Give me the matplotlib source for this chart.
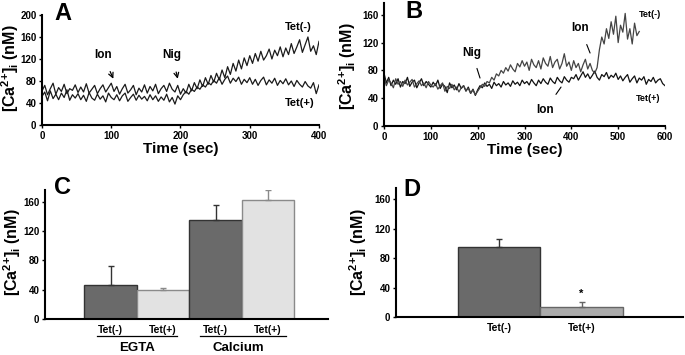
import matplotlib
matplotlib.use('Agg')
import matplotlib.pyplot as plt
import numpy as np

plt.rcParams['font.family'] = 'Liberation Sans'
plt.rcParams['font.weight'] = 'bold'
plt.rcParams['mathtext.fontset'] = 'custom'
plt.rcParams['mathtext.rm'] = 'Liberation Sans:bold'
plt.rcParams['mathtext.it'] = 'Liberation Sans:bold'
plt.rcParams['mathtext.bf'] = 'Liberation Sans:bold'

# panel A traces, sampled every 4 s
time_A = np.arange(0, 401, 4)
tet_minus_A = [62, 72, 55, 66, 76, 56, 68, 61, 74, 57, 66, 63, 73,
               59, 69, 60, 75, 58, 65, 72, 57, 66, 73, 60, 68, 76,
               61, 70, 56, 66, 74, 58, 64, 72, 55, 67, 60, 73,
               58, 70, 62, 74, 57, 66, 72, 61, 76, 65, 60, 72, 56,
               66, 58, 74, 62, 77, 66, 82, 70, 86, 74, 90, 78,
               94, 82, 100, 86, 106, 92, 112, 98, 118, 102, 122, 108, 126,
               112, 130, 116, 134, 118, 126, 138, 120, 136, 126, 142, 124,
               140, 128, 148, 130, 142, 155, 132, 146, 160, 134, 144, 128, 152]
tet_plus_A = [52, 60, 44, 62, 48, 56, 46, 58, 50, 64, 45, 55, 49,
              57, 46, 54, 43, 59, 49, 45, 56, 47, 53, 42, 58, 50,
              46, 55, 44, 53, 58, 43, 50, 56, 45, 54, 47, 52,
              44, 55, 46, 53, 43, 51, 45, 56, 42, 50, 38, 53, 46,
              55, 61, 56, 65, 61, 69, 65, 73, 69, 77, 73, 81,
              76, 86, 74, 83, 89, 76, 85, 79, 87, 74, 83, 77, 86,
              74, 83, 72, 81, 87, 73, 82, 76, 85, 72, 81, 75,
              84, 73, 80, 70, 81, 74, 69, 79, 71, 67, 77, 57, 73]

# panel B traces, sampled every 5 s
time_B_plus = np.arange(0, 601, 5)
time_B_minus = np.arange(0, 546, 5)
tet_plus_B = [76, 62, 70, 58, 66, 60, 68, 56, 64, 61, 70, 57, 63, 66, 55, 62, 68, 58, 64, 60, 56,
              63, 58, 66, 54, 60, 57, 48, 62, 55, 59, 52, 61, 54, 58, 50, 56, 47, 53, 44, 52,
              58, 55, 62, 57, 60, 54, 63, 58, 61, 56, 64, 59, 62, 57, 65, 60, 63, 58, 66, 61,
              64, 59, 67, 62, 58, 66, 61, 68, 63, 60, 69, 64, 61, 70, 65, 62, 71, 66, 63, 70,
              68, 74, 66, 72, 78, 70, 75, 68, 73, 79, 70, 66, 74, 71, 77, 68, 73, 70, 76, 67,
              72, 65, 70, 74, 63, 68, 72, 62, 69, 66, 71, 60, 67, 64, 70, 62, 66, 68, 61, 58]
tet_minus_B = [70, 58, 66, 62, 55, 68, 60, 64, 57, 66, 59, 63, 67, 56, 61, 65, 58, 62, 55, 64, 59,
               56, 61, 53, 58, 62, 50, 57, 54, 60, 52, 56, 49, 55, 58, 51, 54, 47, 52, 45, 50,
               55, 60, 57, 64, 62, 70, 66, 75, 72, 80, 76, 84, 79, 88, 82, 78, 90, 85, 94, 86,
               92, 80, 96, 88, 84, 94, 82, 98, 90, 86, 100, 84, 92, 96, 82, 90, 104, 86, 92, 80,
               94, 84, 90, 78, 88, 96, 82, 90, 80, 76,
               84, 110, 128, 118, 140, 126, 150, 132, 158, 120, 145, 135, 162, 125, 140, 118, 148, 130, 136]

# panel C bars
c_labels = ['Tet(-)', 'Tet(+)', 'Tet(-)', 'Tet(+)']
c_groups = ['EGTA', 'Calcium']
c_means = [47, 39, 135, 163]
c_errs = [25, 3, 20, 13]

# panel D bars
d_labels = ['Tet(-)', 'Tet(+)']
d_means = [95, 14]
d_errs = [11, 7]

yticks = [0, 40, 80, 120, 160]
ylab = r'[Ca$^{2{+}}$]$_i$ (nM)'

fig = plt.figure(figsize=(6.85, 3.55), dpi=100)
axA = fig.add_axes([0.0613, 0.6479, 0.4044, 0.3099])
axB = fig.add_axes([0.5606, 0.6451, 0.4102, 0.3465])
axC = fig.add_axes([0.0657, 0.1014, 0.4131, 0.3634])
axD = fig.add_axes([0.578, 0.107, 0.419, 0.3634])

for ax in [axA, axB, axC, axD]:
    ax.spines['top'].set_visible(False)
    ax.spines['right'].set_visible(False)
    ax.spines['left'].set_linewidth(1.5)
    ax.spines['bottom'].set_linewidth(1.5)
    ax.tick_params(labelsize=7, length=2.5, width=1, pad=1.5)

# A
axA.plot(time_A, tet_minus_A, color='#1a1a1a', lw=0.9)
axA.plot(time_A, tet_plus_A, color='#1a1a1a', lw=0.9)
axA.set_xlim(0, 400)
axA.set_ylim(0, 200)
axA.set_xticks([0, 100, 200, 300, 400])
axA.set_yticks([0, 40, 80, 120, 160, 200])
axA.set_xlabel('Time (sec)', fontsize=11, fontweight='bold', labelpad=1)
axA.annotate('Ion', xy=(103, 84), xytext=(88, 127), fontsize=8.5, ha='center', va='center',
             arrowprops=dict(arrowstyle='->', lw=0.9, shrinkA=6, shrinkB=0))
axA.annotate('Nig', xy=(196, 84), xytext=(188, 127), fontsize=8.5, ha='center', va='center',
             arrowprops=dict(arrowstyle='->', lw=0.9, shrinkA=6, shrinkB=0))
axA.text(370, 178, 'Tet(-)', fontsize=8, ha='center', va='center')
axA.text(372, 40, 'Tet(+)', fontsize=8, ha='center', va='center')

# B
axB.plot(time_B_plus, tet_plus_B, color='#111111', lw=0.9)
axB.plot(time_B_minus, tet_minus_B, color='#444444', lw=0.9)
axB.set_xlim(0, 600)
axB.set_ylim(0, 177)
axB.set_xticks([0, 100, 200, 300, 400, 500, 600])
axB.set_yticks(yticks)
axB.set_xlabel('Time (sec)', fontsize=11, fontweight='bold', labelpad=1)
axB.annotate('Nig', xy=(205, 69), xytext=(188, 105), fontsize=8.5, ha='center', va='center',
             arrowprops=dict(arrowstyle='-', lw=0.8, shrinkA=5, shrinkB=0))
axB.annotate('Ion', xy=(440, 105), xytext=(419, 141), fontsize=8.5, ha='center', va='center',
             arrowprops=dict(arrowstyle='-', lw=0.8, shrinkA=6, shrinkB=0))
axB.annotate('Ion', xy=(378, 56), xytext=(344, 23), fontsize=8.5, ha='center', va='center',
             arrowprops=dict(arrowstyle='-', lw=0.8, shrinkA=6, shrinkB=0))
axB.text(568, 161, 'Tet(-)', fontsize=6.5, ha='center', va='center')
axB.text(564, 40, 'Tet(+)', fontsize=6.5, ha='center', va='center')

# C
c_pos = [1.25, 2.25, 3.25, 4.25]
c_face = ['#6a6a6a', '#e2e2e2', '#6a6a6a', '#e2e2e2']
c_edge = ['#333333', '#8a8a8a', '#333333', '#8a8a8a']
axC.bar(c_pos, c_means, width=1.0, color=c_face, edgecolor=c_edge, linewidth=1)
for p, m, e, ec in zip(c_pos, c_means, c_errs, c_edge):
    axC.errorbar(p, m, yerr=[[0], [e]], fmt='none', ecolor=ec, elinewidth=1, capsize=2)
axC.set_xlim(0, 5.39)
axC.set_ylim(0, 176)
axC.set_yticks(yticks)
axC.set_xticks(c_pos)
axC.set_xticklabels(c_labels, fontsize=7.5)
axC.tick_params(axis='x', length=0, pad=4)
xt = axC.get_xaxis_transform()
axC.plot([0.99, 2.51], [-0.132, -0.132], color='black', lw=0.9, transform=xt, clip_on=False)
axC.plot([2.95, 4.59], [-0.132, -0.132], color='black', lw=0.9, transform=xt, clip_on=False)
axC.text(1.75, -0.225, c_groups[0], fontsize=9.5, ha='center', va='center', transform=xt)
axC.text(3.68, -0.225, c_groups[1], fontsize=9.5, ha='center', va='center', transform=xt)

# D
d_pos = [1.25, 2.25]
d_face = ['#6a6a6a', '#ababab']
d_edge = ['#333333', '#666666']
axD.bar(d_pos, d_means, width=1.0, color=d_face, edgecolor=d_edge, linewidth=1)
for p, m, e, ec in zip(d_pos, d_means, d_errs, d_edge):
    axD.errorbar(p, m, yerr=[[0], [e]], fmt='none', ecolor=ec, elinewidth=1, capsize=2)
axD.text(2.25, d_means[1] + d_errs[1] + 3, '*', fontsize=8, ha='center', va='bottom')
axD.set_xlim(0, 3.48)
axD.set_ylim(0, 175)
axD.set_yticks(yticks)
axD.set_xticks(d_pos)
axD.set_xticklabels(d_labels, fontsize=7.5)
axD.tick_params(axis='x', length=0, pad=4)

# y labels and panel letters
for x, y in [(10, 68), (347, 66), (12, 252), (358, 252)]:
    fig.text(x / 685, 1 - y / 355, ylab, rotation=90, fontsize=11.5, ha='center', va='center')
for letter, x, y in [('A', 63, 13), ('B', 414, 12), ('C', 62, 188), ('D', 412, 190)]:
    fig.text(x / 685, 1 - y / 355, letter, fontsize=17, ha='center', va='center')

plt.savefig('out.png', dpi=100)
